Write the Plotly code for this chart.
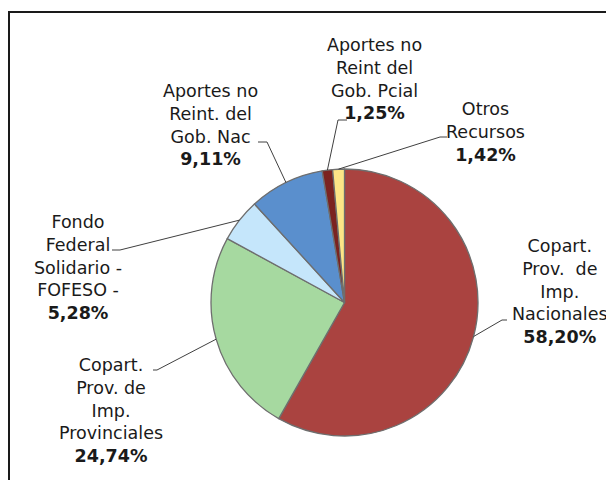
import math
import plotly.graph_objects as go

# ---- data ----
labels = [
    "Copart. Prov. de Imp. Nacionales",
    "Copart. Prov. de Imp. Provinciales",
    "Fondo Federal Solidario - FOFESO -",
    "Aportes no Reint. del Gob. Nac",
    "Aportes no Reint del Gob. Pcial",
    "Otros Recursos",
]
values = [58.20, 24.74, 5.28, 9.11, 1.25, 1.42]
label_lines = [
    ["Copart.", "Prov.  de", "Imp.", "Nacionales"],
    ["Copart.", "Prov. de", "Imp.", "Provinciales"],
    ["Fondo", "Federal", "Solidario -", "FOFESO -"],
    ["Aportes no", "Reint. del", "Gob. Nac"],
    ["Aportes no", "Reint del", "Gob. Pcial"],
    ["Otros", "Recursos"],
]
colors = ["#AA4340", "#A6D9A0", "#C5E6FB", "#5A8FCD", "#7B2320", "#FDE586"]

# ---- layout constants (pixels, in window coordinates) ----
OFF = 8                      # page body margin
W, H = 614 - OFF, 480 - OFF  # visible figure size
CX, CY, R = 344.5, 302.5, 133.5
# label block centers
label_pos = [(560, 291), (111, 410), (78, 267.5), (210, 124.5), (375, 79), (485.5, 132)]
# leader line elbow and end points
elbows = [((502, 320), (507, 320)),
          ((157, 370), (153, 370)),
          ((120, 250), (112, 250)),
          ((267, 142), (258, 142)),
          ((338, 120), (347, 120)),
          ((440, 137), (447, 137))]


def px(x):
    return (x - OFF) / W


def py(y):
    return 1 - (y - OFF) / H


fig = go.Figure()
fig.add_trace(go.Pie(
    labels=labels,
    values=values,
    sort=False,
    direction="clockwise",
    rotation=0,
    textinfo="none",
    hoverinfo="label+percent",
    marker=dict(colors=colors, line=dict(color="#6E6E6E", width=1.3)),
    domain=dict(x=[px(CX - R), px(CX + R)], y=[py(CY + R), py(CY - R)]),
    showlegend=False,
))

total = sum(values)
shapes = []
annotations = []
cum = 0.0
for i, v in enumerate(values):
    mid = (cum + v / 2) / total * 2 * math.pi
    cum += v
    sx = CX + R * math.sin(mid)
    sy = CY - R * math.cos(mid)
    (ex, ey), (fx, fy) = elbows[i]
    path = f"M {px(sx)} {py(sy)} L {px(ex)} {py(ey)} L {px(fx)} {py(fy)}"
    shapes.append(dict(type="path", xref="paper", yref="paper", path=path,
                       line=dict(color="#404040", width=1)))
    pct = f"{v:.2f}".replace(".", ",") + "%"
    text = "<br>".join(label_lines[i]) + f"<br><b>{pct}</b>"
    lx, ly = label_pos[i]
    annotations.append(dict(x=px(lx), y=py(ly), xref="paper", yref="paper",
                            text=text, showarrow=False, align="center",
                            xanchor="center", yanchor="middle",
                            font=dict(family="DejaVu Sans", size=17.5, color="#1A1A1A")))

# chart area border (only top and left edges visible)
shapes.append(dict(type="path", xref="paper", yref="paper",
                   path=f"M {px(9)} {py(H + 20)} L {px(9)} {py(12)} L {px(W + 20)} {py(12)}",
                   line=dict(color="#1A1A1A", width=2)))

fig.update_layout(
    width=W, height=H,
    margin=dict(l=0, r=0, t=0, b=0),
    paper_bgcolor="white",
    plot_bgcolor="white",
    shapes=shapes,
    annotations=annotations,
)

fig.write_html("out.html")
